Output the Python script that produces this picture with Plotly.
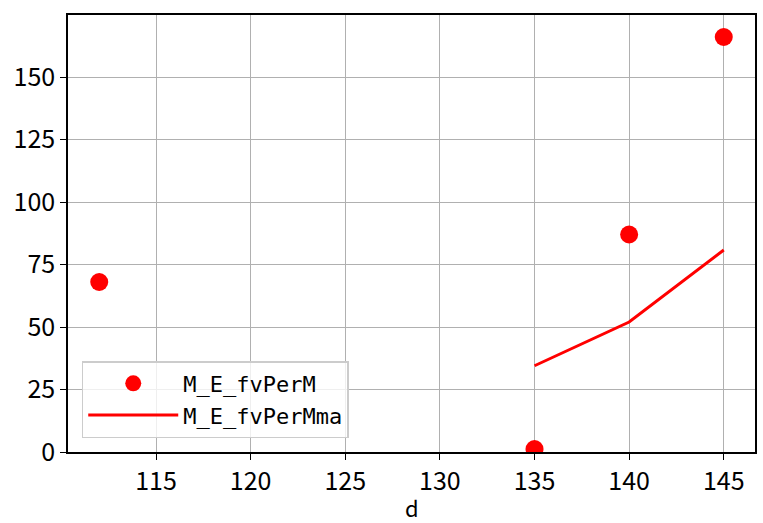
import plotly.graph_objects as go

d_pts = [112, 135, 140, 145]
fv_per_m = [68, 1.2, 87, 166]
d_ma = [135, 140, 145]
fv_per_m_ma = [34.5, 52, 80.8]

font_name = "Noto Sans CJK JP"

fig = go.Figure()
fig.add_trace(go.Scatter(x=d_pts, y=fv_per_m, mode='markers', name='M_E_fvPerM',
                         marker={'color': 'red', 'size': 18}))
fig.add_trace(go.Scatter(x=d_ma, y=fv_per_m_ma, mode='lines', name='M_E_fvPerMma',
                         line={'color': 'red', 'width': 3}))

axis_style = dict(showline=True, linecolor='black', linewidth=1.5, mirror=True,
                  ticks='outside', ticklen=6, tickwidth=1.2, tickcolor='black',
                  showgrid=True, gridcolor='#b0b0b0', gridwidth=1.3, zeroline=False,
                  automargin=False,
                  tickfont={'size': 25, 'color': 'black', 'family': font_name})

fig.update_xaxes(range=[110.35, 146.65], tickvals=[115, 120, 125, 130, 135, 140, 145],
                 **axis_style)
fig.update_yaxes(range=[0, 174.8], tickvals=[0, 25, 50, 75, 100, 125, 150], **axis_style)

# x axis label placed by hand (standoff is ignored without automargin)
fig.add_annotation(text='d', xref='paper', yref='paper', x=0.5, y=-0.125,
                   xanchor='center', yanchor='middle', showarrow=False, borderpad=0,
                   font={'size': 22, 'color': 'black', 'family': font_name})

fig.update_layout(width=763, height=523,
                  margin=dict(l=68, r=8, t=15, b=71, autoexpand=False),
                  paper_bgcolor='white', plot_bgcolor='white',
                  font={'family': font_name},
                  legend={'x': 0.02, 'y': 0.032, 'xanchor': 'left', 'yanchor': 'bottom',
                          'bgcolor': 'rgba(255,255,255,0.8)', 'bordercolor': '#cccccc',
                          'borderwidth': 1.5,
                          'font': {'size': 22, 'color': 'black', 'family': 'DejaVu Sans Mono'},
                          'itemwidth': 90})

# page body has a default margin; drop it so the figure sits at the window corner
fig.write_html("out.html", config={'displayModeBar': False},
               post_script="document.body.style.margin='0';")
